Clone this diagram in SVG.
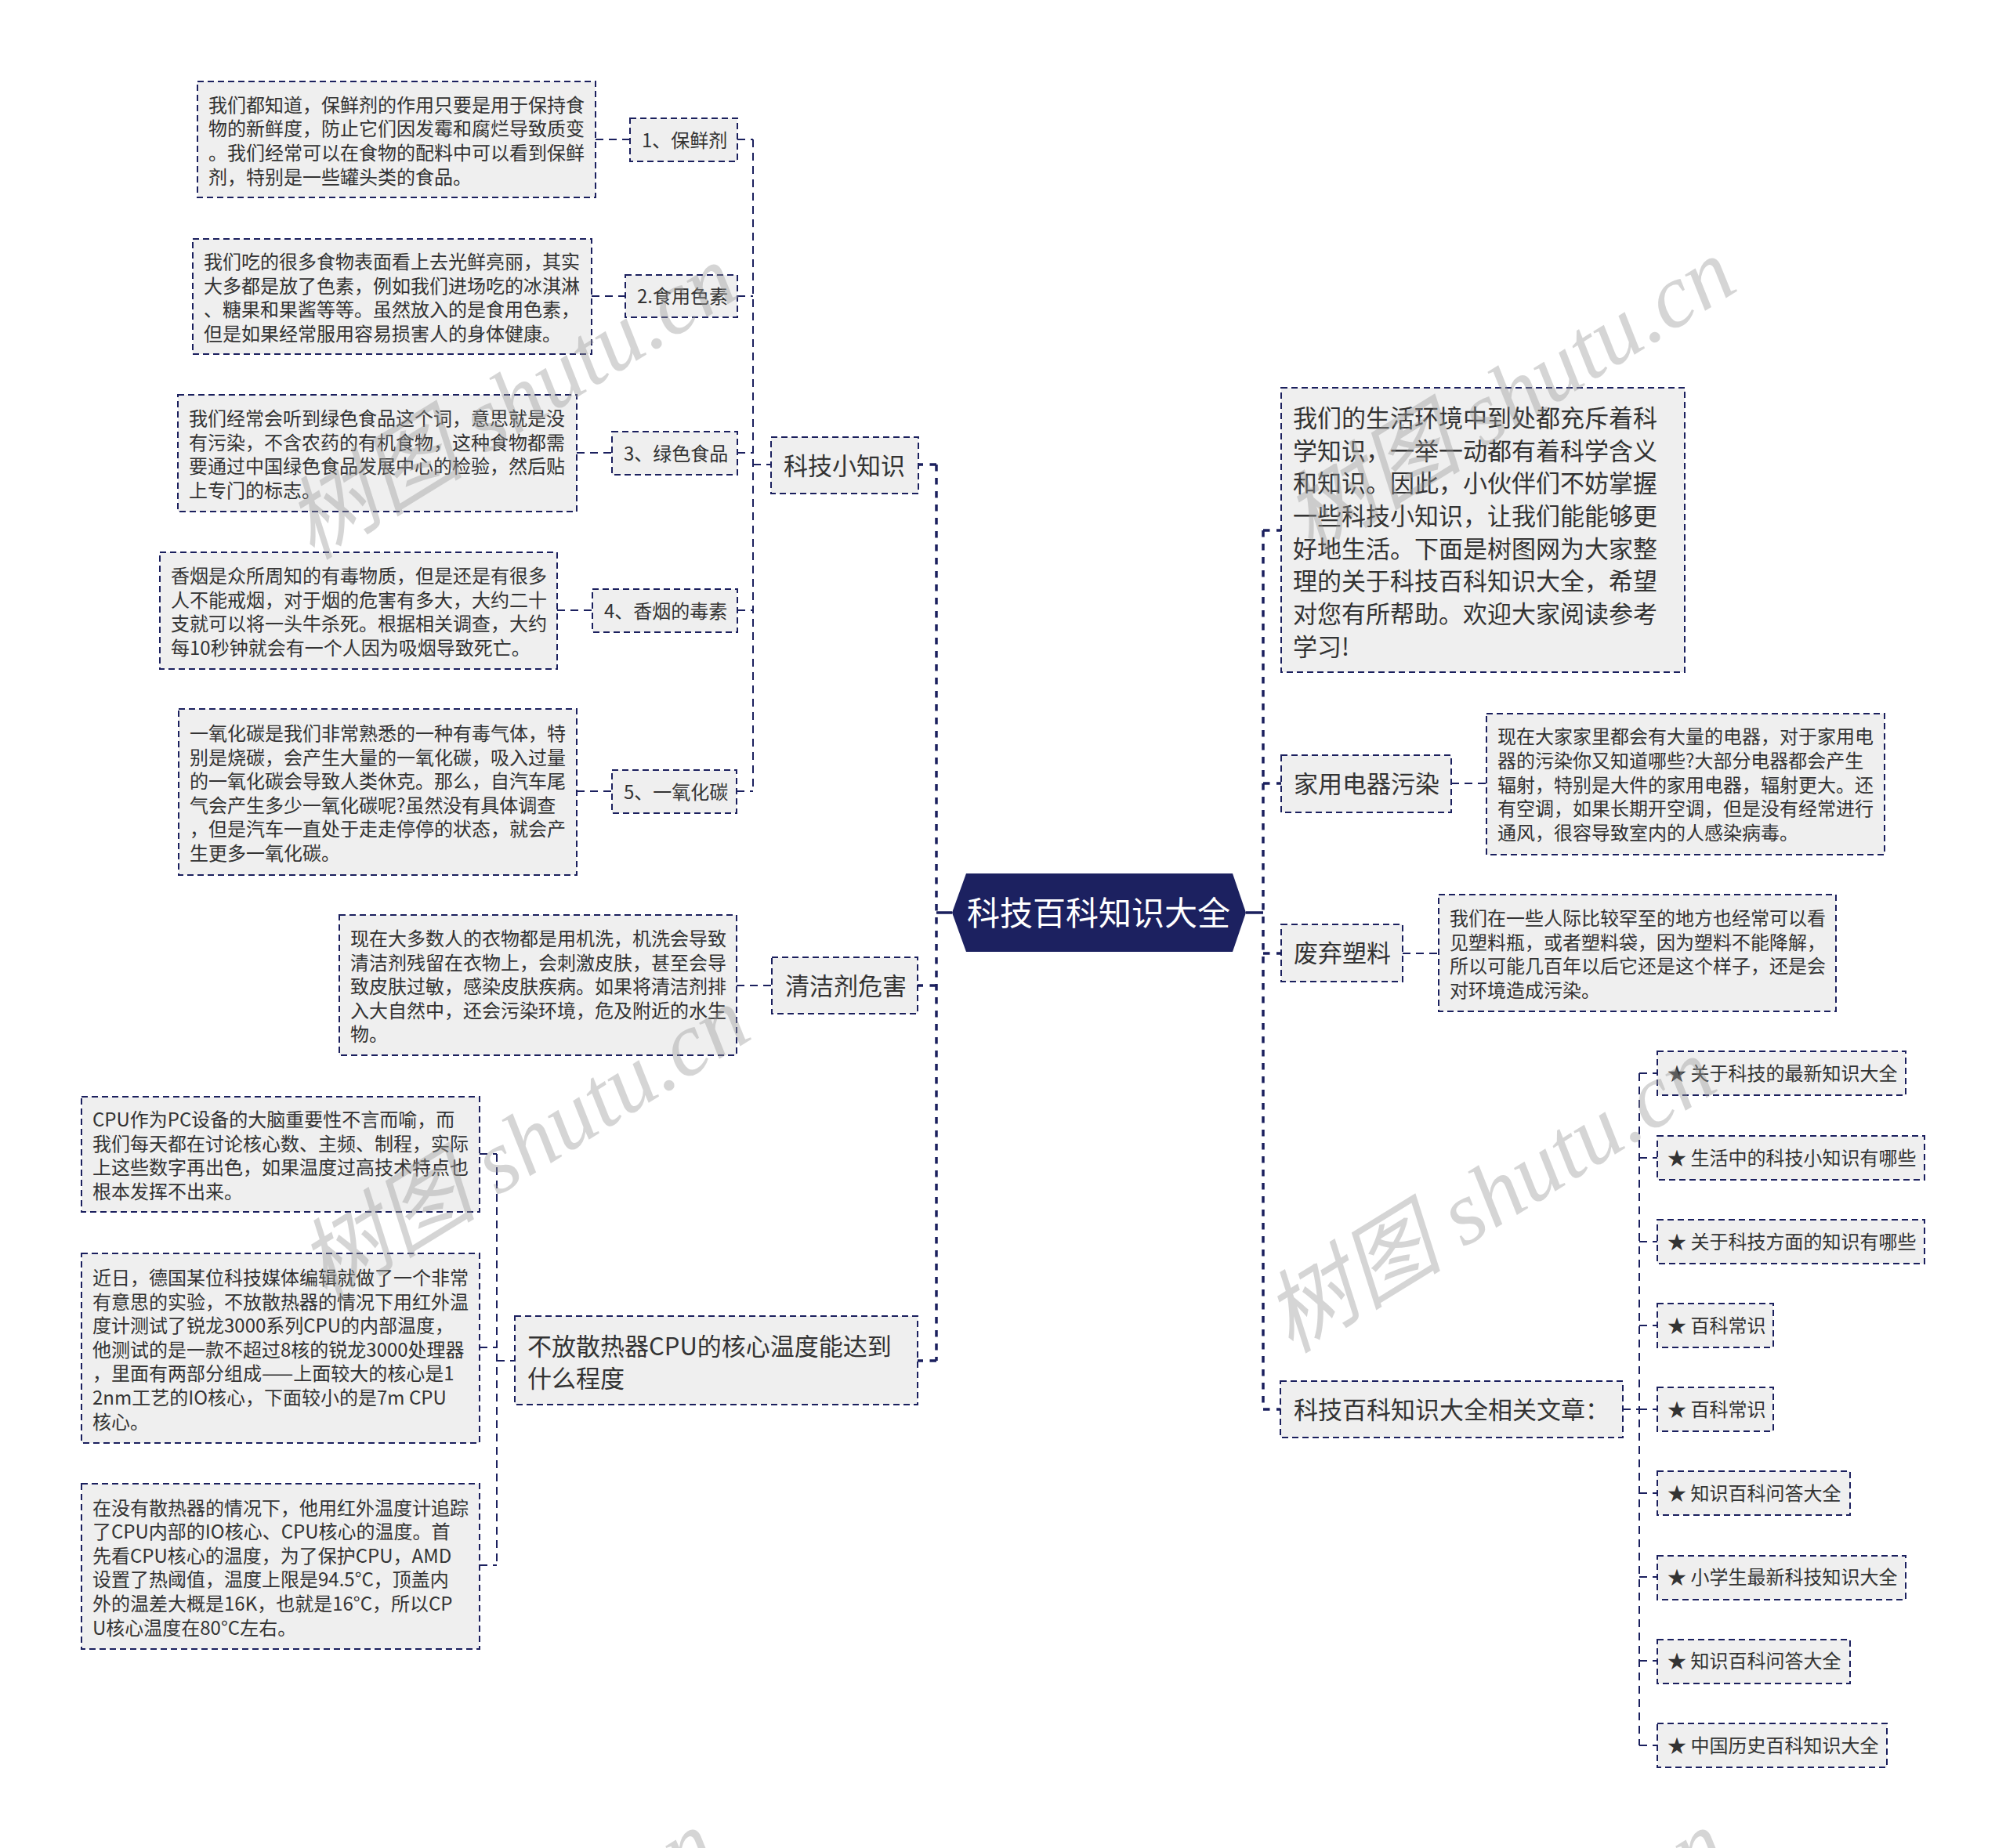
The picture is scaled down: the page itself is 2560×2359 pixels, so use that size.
<svg xmlns="http://www.w3.org/2000/svg" width="2560" height="2359" viewBox="0 0 2560 2359">
<style>
.box{fill:#efefef;stroke:#1b205e;stroke-width:2;stroke-dasharray:8 5}
.t{font-family:"Noto Sans CJK SC","Noto Sans",sans-serif;fill:#333}
.s{font-size:24px}
.m{font-size:31px}
.thick{stroke:#1b205e;stroke-width:3.5;stroke-dasharray:8.5 8.5;fill:none}
.thin{stroke:#1b205e;stroke-width:2;stroke-dasharray:10 7;fill:none}
.solid{stroke:#1b205e;stroke-width:3.5;fill:none}
.wm{font-family:"Liberation Serif","Noto Sans CJK SC",serif;font-style:italic;font-size:115px;fill:#999;opacity:0.4}
</style>
<rect width="2560" height="2359" fill="#ffffff"/>

<g id="connectors">
<path class="solid" d="M1215 1165 H1195 M1590 1165 H1612"/>
<path class="thick" d="M1195 593 V1737 M1195 593 H1172 M1195 1258 H1171 M1195 1737 H1171"/>
<path class="thick" d="M1612 677 V1799 M1612 677 H1635 M1612 1000 H1635 M1612 1217 H1635 M1612 1799 H1634"/>
<path class="thin" d="M961 178 V1010 M941 178 H961 M941 378 H961 M941 578 H961 M941 779 H961 M940 1010 H961 M961 593 H984"/>
<path class="thin" d="M760 178 H804 M755 378 H798 M736 578 H781 M711 779 H756 M736 1010 H781"/>
<path class="thin" d="M940 1258 H985"/>
<path class="thin" d="M634 1473 V1998 M612 1473 H634 M612 1720 H634 M612 1998 H634 M634 1737 H657"/>
<path class="thin" d="M1852 1000 H1897 M1790 1217 H1836"/>
<path class="thin" d="M2092 1370 V2228 M2071 1799 H2092 M2092 1370 H2115 M2092 1478 H2115 M2092 1585 H2115 M2092 1692 H2115 M2092 1799 H2115 M2092 1906 H2115 M2092 2013 H2115 M2092 2120 H2115 M2092 2228 H2115"/>
</g>

<g id="root">
<polygon points="1215,1165 1233,1115 1573,1115 1590,1165 1573,1215 1233,1215" fill="#1c2160"/>
<text x="1402" y="1181" text-anchor="middle" font-family="Noto Sans CJK SC, sans-serif" font-size="42" fill="#ffffff">科技百科知识大全</text>
</g>

<g id="n-kjxzs">
<rect class="box" x="984" y="558" width="188" height="72"/>
<text class="t m" x="1000" y="605.8">科技小知识</text>
</g>
<g id="n-bxj">
<rect class="box" x="804" y="151" width="137" height="55"/>
<text class="t s" x="819" y="187.5">1、保鲜剂</text>
</g>
<g id="d-bxj">
<rect class="box" x="252" y="104" width="508" height="148"/>
<text class="t s" x="266" y="142.7"><tspan x="266">我们都知道，保鲜剂的作用只要是用于保持食</tspan><tspan x="266" dy="30.6">物的新鲜度，防止它们因发霉和腐烂导致质变</tspan><tspan x="266" dy="30.6">。我们经常可以在食物的配料中可以看到保鲜</tspan><tspan x="266" dy="30.6">剂，特别是一些罐头类的食品。</tspan></text>
</g>
<g id="n-sysl">
<rect class="box" x="798" y="351" width="143" height="54"/>
<text class="t s" x="813" y="387">2.食用色素</text>
</g>
<g id="d-sysl">
<rect class="box" x="246" y="305" width="509" height="147"/>
<text class="t s" y="343.2"><tspan x="260">我们吃的很多食物表面看上去光鲜亮丽，其实</tspan><tspan x="260" dy="30.6">大多都是放了色素，例如我们进场吃的冰淇淋</tspan><tspan x="260" dy="30.6">、糖果和果酱等等。虽然放入的是食用色素，</tspan><tspan x="260" dy="30.6">但是如果经常服用容易损害人的身体健康。</tspan></text>
</g>
<g id="n-lssp">
<rect class="box" x="781" y="551" width="160" height="55"/>
<text class="t s" x="796" y="587.5">3、绿色食品</text>
</g>
<g id="d-lssp">
<rect class="box" x="227" y="504" width="509" height="149"/>
<text class="t s" y="543.2"><tspan x="241">我们经常会听到绿色食品这个词，意思就是没</tspan><tspan x="241" dy="30.6">有污染，不含农药的有机食物，这种食物都需</tspan><tspan x="241" dy="30.6">要通过中国绿色食品发展中心的检验，然后贴</tspan><tspan x="241" dy="30.6">上专门的标志。</tspan></text>
</g>
<g id="n-xydds">
<rect class="box" x="756" y="752" width="185" height="55"/>
<text class="t s" x="771" y="788.5">4、香烟的毒素</text>
</g>
<g id="d-xydds">
<rect class="box" x="204" y="705" width="507" height="149"/>
<text class="t s" y="744.2"><tspan x="218">香烟是众所周知的有毒物质，但是还是有很多</tspan><tspan x="218" dy="30.6">人不能戒烟，对于烟的危害有多大，大约二十</tspan><tspan x="218" dy="30.6">支就可以将一头牛杀死。根据相关调查，大约</tspan><tspan x="218" dy="30.6">每10秒钟就会有一个人因为吸烟导致死亡。</tspan></text>
</g>
<g id="n-yyht">
<rect class="box" x="781" y="983" width="159" height="55"/>
<text class="t s" x="796" y="1019.5">5、一氧化碳</text>
</g>
<g id="d-yyht">
<rect class="box" x="228" y="905" width="508" height="212"/>
<text class="t s" y="945"><tspan x="242">一氧化碳是我们非常熟悉的一种有毒气体，特</tspan><tspan x="242" dy="30.6">别是烧碳，会产生大量的一氧化碳，吸入过量</tspan><tspan x="242" dy="30.6">的一氧化碳会导致人类休克。那么，自汽车尾</tspan><tspan x="242" dy="30.6">气会产生多少一氧化碳呢?虽然没有具体调查</tspan><tspan x="242" dy="30.6">，但是汽车一直处于走走停停的状态，就会产</tspan><tspan x="242" dy="30.6">生更多一氧化碳。</tspan></text>
</g>

<g id="n-qjj">
<rect class="box" x="985" y="1222" width="186" height="72"/>
<text class="t m" x="1002" y="1269.8">清洁剂危害</text>
</g>
<g id="d-qjj">
<rect class="box" x="433" y="1168" width="507" height="179"/>
<text class="t s" y="1207"><tspan x="447">现在大多数人的衣物都是用机洗，机洗会导致</tspan><tspan x="447" dy="30.6">清洁剂残留在衣物上，会刺激皮肤，甚至会导</tspan><tspan x="447" dy="30.6">致皮肤过敏，感染皮肤疾病。如果将清洁剂排</tspan><tspan x="447" dy="30.6">入大自然中，还会污染环境，危及附近的水生</tspan><tspan x="447" dy="30.6">物。</tspan></text>
</g>

<g id="n-cpu">
<rect class="box" x="657" y="1680" width="514" height="113"/>
<text class="t m" y="1729.8"><tspan x="673">不放散热器CPU的核心温度能达到</tspan><tspan x="673" dy="41">什么程度</tspan></text>
</g>
<g id="d-cpu1">
<rect class="box" x="104" y="1400" width="508" height="147"/>
<text class="t s" y="1438"><tspan x="118">CPU作为PC设备的大脑重要性不言而喻，而</tspan><tspan x="118" dy="30.6">我们每天都在讨论核心数、主频、制程，实际</tspan><tspan x="118" dy="30.6">上这些数字再出色，如果温度过高技术特点也</tspan><tspan x="118" dy="30.6">根本发挥不出来。</tspan></text>
</g>
<g id="d-cpu2">
<rect class="box" x="104" y="1600" width="508" height="242"/>
<text class="t s" y="1640"><tspan x="118">近日，德国某位科技媒体编辑就做了一个非常</tspan><tspan x="118" dy="30.6">有意思的实验，不放散热器的情况下用红外温</tspan><tspan x="118" dy="30.6">度计测试了锐龙3000系列CPU的内部温度，</tspan><tspan x="118" dy="30.6">他测试的是一款不超过8核的锐龙3000处理器</tspan><tspan x="118" dy="30.6">，里面有两部分组成——上面较大的核心是1</tspan><tspan x="118" dy="30.6">2nm工艺的IO核心，下面较小的是7m CPU</tspan><tspan x="118" dy="30.6">核心。</tspan></text>
</g>
<g id="d-cpu3">
<rect class="box" x="104" y="1894" width="508" height="211"/>
<text class="t s" y="1933.5"><tspan x="118">在没有散热器的情况下，他用红外温度计追踪</tspan><tspan x="118" dy="30.6">了CPU内部的IO核心、CPU核心的温度。首</tspan><tspan x="118" dy="30.6">先看CPU核心的温度，为了保护CPU，AMD</tspan><tspan x="118" dy="30.6">设置了热阈值，温度上限是94.5°C，顶盖内</tspan><tspan x="118" dy="30.6">外的温差大概是16K，也就是16°C，所以CP</tspan><tspan x="118" dy="30.6">U核心温度在80°C左右。</tspan></text>
</g>

<g id="n-intro">
<rect class="box" x="1635" y="495" width="515" height="363"/>
<text class="t m" y="544.8"><tspan x="1650">我们的生活环境中到处都充斥着科</tspan><tspan x="1650" dy="41.7">学知识，一举一动都有着科学含义</tspan><tspan x="1650" dy="41.7">和知识。因此，小伙伴们不妨掌握</tspan><tspan x="1650" dy="41.7">一些科技小知识，让我们能能够更</tspan><tspan x="1650" dy="41.7">好地生活。下面是树图网为大家整</tspan><tspan x="1650" dy="41.7">理的关于科技百科知识大全，希望</tspan><tspan x="1650" dy="41.7">对您有所帮助。欢迎大家阅读参考</tspan><tspan x="1650" dy="41.7">学习!</tspan></text>
</g>
<g id="n-jydq">
<rect class="box" x="1635" y="964" width="217" height="73"/>
<text class="t m" x="1651" y="1012.3">家用电器污染</text>
</g>
<g id="d-jydq">
<rect class="box" x="1897" y="911" width="508" height="180"/>
<text class="t s" y="949.4"><tspan x="1911">现在大家家里都会有大量的电器，对于家用电</tspan><tspan x="1911" dy="30.6">器的污染你又知道哪些?大部分电器都会产生</tspan><tspan x="1911" dy="30.6">辐射，特别是大件的家用电器，辐射更大。还</tspan><tspan x="1911" dy="30.6">有空调，如果长期开空调，但是没有经常进行</tspan><tspan x="1911" dy="30.6">通风，很容导致室内的人感染病毒。</tspan></text>
</g>
<g id="n-fqsl">
<rect class="box" x="1635" y="1180" width="155" height="73"/>
<text class="t m" x="1651" y="1228.3">废弃塑料</text>
</g>
<g id="d-fqsl">
<rect class="box" x="1836" y="1142" width="507" height="149"/>
<text class="t s" y="1181"><tspan x="1850">我们在一些人际比较罕至的地方也经常可以看</tspan><tspan x="1850" dy="30.6">见塑料瓶，或者塑料袋，因为塑料不能降解，</tspan><tspan x="1850" dy="30.6">所以可能几百年以后它还是这个样子，还是会</tspan><tspan x="1850" dy="30.6">对环境造成污染。</tspan></text>
</g>
<g id="n-xgwz">
<rect class="box" x="1634" y="1763" width="437" height="72"/>
<text class="t m" x="1651" y="1810.8">科技百科知识大全相关文章：</text>
</g>
<g id="a1"><rect class="box" x="2115" y="1342" width="317" height="56"/><text class="t s" x="2128" y="1379">★ 关于科技的最新知识大全</text></g>
<g id="a2"><rect class="box" x="2115" y="1450" width="341" height="56"/><text class="t s" x="2128" y="1487">★ 生活中的科技小知识有哪些</text></g>
<g id="a3"><rect class="box" x="2115" y="1557" width="341" height="56"/><text class="t s" x="2128" y="1594">★ 关于科技方面的知识有哪些</text></g>
<g id="a4"><rect class="box" x="2115" y="1664" width="148" height="56"/><text class="t s" x="2128" y="1701">★ 百科常识</text></g>
<g id="a5"><rect class="box" x="2115" y="1771" width="148" height="56"/><text class="t s" x="2128" y="1808">★ 百科常识</text></g>
<g id="a6"><rect class="box" x="2115" y="1878" width="246" height="56"/><text class="t s" x="2128" y="1915">★ 知识百科问答大全</text></g>
<g id="a7"><rect class="box" x="2115" y="1986" width="317" height="56"/><text class="t s" x="2128" y="2022">★ 小学生最新科技知识大全</text></g>
<g id="a8"><rect class="box" x="2115" y="2093" width="246" height="56"/><text class="t s" x="2128" y="2129">★ 知识百科问答大全</text></g>
<g id="a9"><rect class="box" x="2115" y="2200" width="293" height="56"/><text class="t s" x="2128" y="2237">★ 中国历史百科知识大全</text></g>

<g id="watermarks">
<text class="wm" text-anchor="middle" transform="translate(653,514) rotate(-31.7)" dy="38">树图 shutu.cn</text>
<text class="wm" text-anchor="middle" transform="translate(1927,506) rotate(-31.7)" dy="38">树图 shutu.cn</text>
<text class="wm" text-anchor="middle" transform="translate(669,1461) rotate(-31.7)" dy="38">树图 shutu.cn</text>
<text class="wm" text-anchor="middle" transform="translate(1902,1527) rotate(-31.7)" dy="38">树图 shutu.cn</text>
<text class="wm" text-anchor="middle" transform="translate(626,2512) rotate(-31.7)" dy="38">树图 shutu.cn</text>
<text class="wm" text-anchor="middle" transform="translate(1915,2512) rotate(-31.7)" dy="38">树图 shutu.cn</text>
</g>
</svg>
